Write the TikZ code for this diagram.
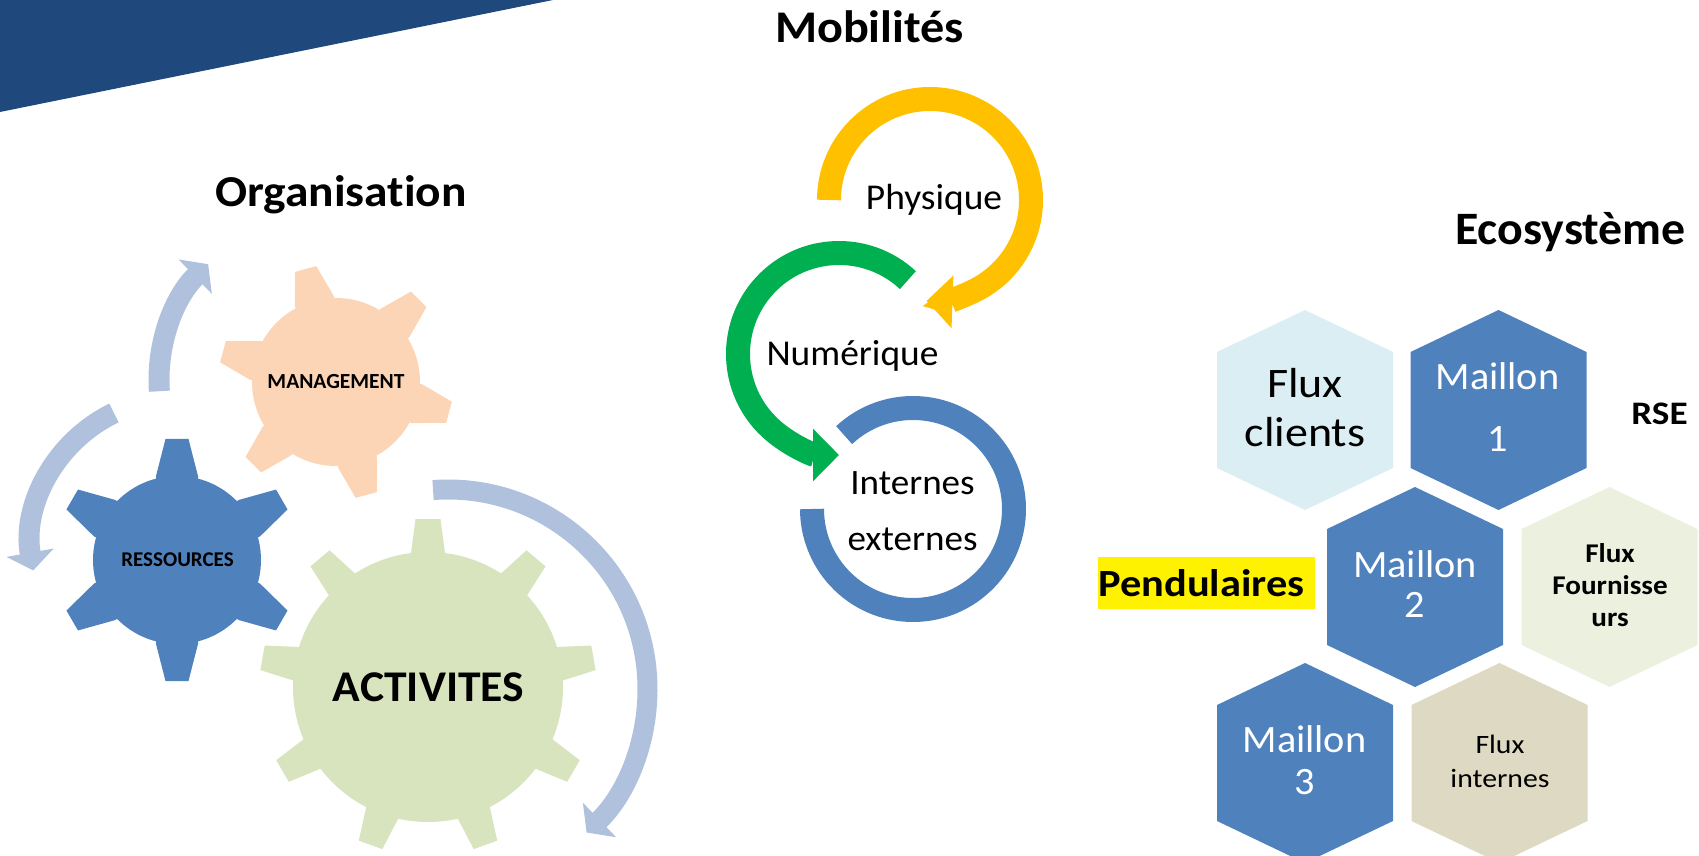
\documentclass[tikz,border=0pt]{standalone}
\usepackage{fontspec}
\usepackage{graphicx}
\setmainfont{Carlito}[Ligatures=NoCommon]
\usetikzlibrary{arrows.meta}
\definecolor{bannercol}{RGB}{31,73,125}
\definecolor{arrowcol}{RGB}{176,193,221}
\definecolor{peach}{RGB}{251,213,181}
\definecolor{midblue}{RGB}{79,129,189}
\definecolor{sage}{RGB}{215,228,189}
\definecolor{gold}{RGB}{255,192,0}
\definecolor{leaf}{RGB}{0,176,80}
\definecolor{hexclient}{RGB}{219,238,244}
\definecolor{hexfourn}{RGB}{235,241,222}
\definecolor{hexint}{RGB}{221,217,195}
\tikzset{
  garrow/.style={draw=arrowcol, line width=21pt, -{Triangle[length=18pt,width=47pt]}},
  marrow/.style={line width=24pt, -{Triangle[length=26pt,width=51pt]}},
  txt/.style={inner sep=0pt, anchor=base},
}
\newcommand{\sx}[3]{\scalebox{#1}[#2]{#3}}
\newcommand{\hexat}[3]{\fill[#3] (#1,#2) ++(0,100) -- ++(88,-42) -- ++(0,-116) -- ++(-88,-42) -- ++(-88,42) -- ++(0,116) -- cycle;}
\begin{document}
\begin{tikzpicture}[x=1pt,y=1pt]
\useasboundingbox (0,0) rectangle (1699,855);
% banner
\fill[bannercol] (0,855) -- (553,855) -- (0,743) -- cycle;

% ---------- Organisation ----------
\node[txt, font=\bfseries\fontsize{42}{42}\selectfont] (org) at (341,648) {\sx{1.13}{1.05}{Organisation}};
% gears
\fill[peach] (336,473) circle[radius=84];
\foreach \a in {105,45,-15,-75,-135,165}
  \fill[peach, shift={(336,473)}, rotate=\a] (72,-20) -- (84,-20) -- (117,-11) -- (117,11) -- (84,20) -- (72,20) -- cycle;
\fill[midblue] (177,295) circle[radius=84];
\foreach \a in {90,30,-30,-90,-150,150}
  \fill[midblue, shift={(177,295)}, rotate=\a] (72,-21) -- (84,-21) -- (121,-11.5) -- (121,11.5) -- (84,21) -- (72,21) -- cycle;
\fill[sage] (428,168) circle[radius=135];
\foreach \a in {90,50,10,-30,-70,-110,-150,170,130}
  \fill[sage, shift={(428,168)}, rotate=\a] (122,-17) -- (134,-17) -- (168,-12.5) -- (168,12.5) -- (134,17) -- (122,17) -- cycle;
\node[inner sep=0pt, font=\bfseries\fontsize{21.5}{21.5}\selectfont] (mgt) at (336,473) {MANAGEMENT};
\node[inner sep=0pt, font=\bfseries\fontsize{21}{21}\selectfont] (res) at (177.5,295) {RESSOURCES};
\node[inner sep=0pt, font=\bfseries\fontsize{43}{43}\selectfont] (act) at (428.5,168) {\sx{1.06}{1.02}{ACTIVITES}};
% circular arrows
\draw[garrow] ([shift={(184:161)}]320,475) arc[start angle=184, end angle=134, radius=161];
\draw[garrow] ([shift={(115.7:146.5)}]177.5,310) arc[start angle=115.7, end angle=190, radius=146.5];
\draw[garrow, line width=20pt] ([shift={(94.3:199.5)}]448,166) arc[start angle=94.3, end angle=-46, radius=199.5];

% ---------- Mobilites ----------
\node[txt, font=\bfseries\fontsize{44}{44}\selectfont] (mob) at (869.5,812) {\sx{1.095}{1.03}{Mobilités}};
\draw[marrow, draw=gold] ([shift={(180:101)}]930,655) arc[start angle=180, end angle=-92, radius=101];
\draw[marrow, draw=leaf] ([shift={(47:101)}]839,501) arc[start angle=47, end angle=270, radius=101];
\draw[line width=24pt, draw=midblue] ([shift={(133:101)}]913,346) arc[start angle=133, end angle=-180, radius=101];
\node[txt, font=\fontsize{36}{36}\selectfont] (phy) at (934,645) {\sx{1.04}{1.01}{Physique}};
\node[txt, font=\fontsize{36}{36}\selectfont] (num) at (852.5,489) {\sx{1.04}{1.01}{Numérique}};
\node[txt, font=\fontsize{35}{35}\selectfont] (int1) at (912.5,361) {\sx{1.06}{1.02}{Internes}};
\node[txt, font=\fontsize{35}{35}\selectfont] (int2) at (912.5,305) {\sx{1.06}{1.02}{externes}};

% ---------- Ecosysteme ----------
\node[txt, font=\bfseries\fontsize{46}{46}\selectfont] (eco) at (1570.5,610) {\sx{1.04}{1.01}{Ecosystème}};
\node[txt, font=\bfseries\fontsize{31}{31}\selectfont] (rse) at (1659.5,430) {\sx{1.2}{1.06}{RSE}};
\node[fill=yellow, inner sep=0pt, minimum width=217pt, minimum height=52pt, anchor=south west] (pendbox) at (1098,246) {};
\node[txt, font=\bfseries\fontsize{37}{37}\selectfont] (pend) at (1201.5,259) {\sx{1.146}{1.04}{Pendulaires}};

\hexat{1305}{445}{hexclient}
\hexat{1498.5}{445}{midblue}
\hexat{1415}{268}{midblue}
\hexat{1609.5}{268}{hexfourn}
\hexat{1305}{92}{midblue}
\hexat{1499.5}{92}{hexint}

\node[txt, font=\fontsize{40}{40}\selectfont] (fc1) at (1305,457) {\sx{1.15}{1.05}{Flux}};
\node[txt, font=\fontsize{40}{40}\selectfont] (fc2) at (1305,408) {\sx{1.15}{1.05}{clients}};
\node[txt, text=white, font=\fontsize{38}{38}\selectfont] (m1a) at (1497.5,465) {\sx{1.06}{1.02}{Maillon}};
\node[txt, text=white, font=\fontsize{38}{38}\selectfont] (m1b) at (1497.5,403) {\sx{1.06}{1.02}{1}};
\node[txt, text=white, font=\fontsize{38}{38}\selectfont] (m2a) at (1415,278) {\sx{1.06}{1.02}{Maillon}};
\node[txt, text=white, font=\fontsize{38}{38}\selectfont] (m2b) at (1415,238) {\sx{1.06}{1.02}{2}};
\node[txt, text=white, font=\fontsize{38}{38}\selectfont] (m3a) at (1304.5,103) {\sx{1.06}{1.02}{Maillon}};
\node[txt, text=white, font=\fontsize{38}{38}\selectfont] (m3b) at (1304.5,61) {\sx{1.06}{1.02}{3}};
\node[txt, font=\fontsize{25}{25}\selectfont] (fi1) at (1500,102) {\sx{1.19}{1.06}{Flux}};
\node[txt, font=\fontsize{25}{25}\selectfont] (fi2) at (1500,68) {\sx{1.19}{1.06}{internes}};
\node[txt, font=\bfseries\fontsize{26}{26}\selectfont] (ff1) at (1610,293) {\sx{1.12}{1.04}{Flux}};
\node[txt, font=\bfseries\fontsize{26}{26}\selectfont] (ff2) at (1610,261) {\sx{1.12}{1.04}{Fournisse}};
\node[txt, font=\bfseries\fontsize{26}{26}\selectfont] (ff3) at (1610,229) {\sx{1.12}{1.04}{urs}};
\end{tikzpicture}
\end{document}
